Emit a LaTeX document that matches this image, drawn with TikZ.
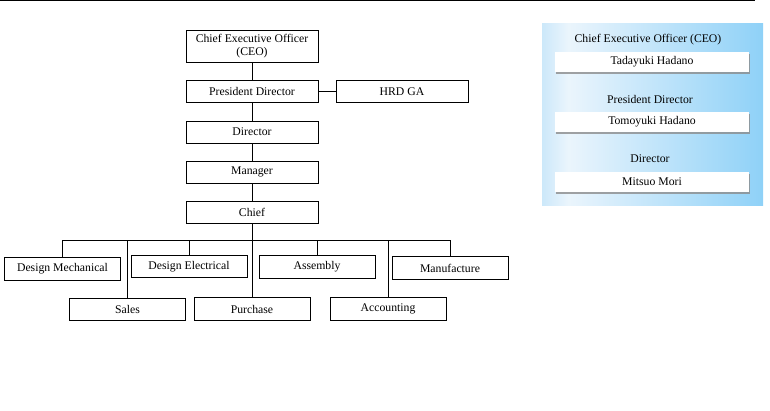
\documentclass[tikz,border=0pt]{standalone}
\usepackage{fontspec}
\setmainfont{Liberation Serif}
\usepackage{tikz}
\usetikzlibrary{positioning,calc,shadows}

\pgfdeclarehorizontalshading{panelgrad}{100bp}{rgb(0bp)=(0.80,0.91,0.98); rgb(25bp)=(0.80,0.91,0.98); rgb(31bp)=(0.92,0.96,0.99); rgb(75bp)=(0.56,0.82,0.97); rgb(100bp)=(0.56,0.82,0.97)}

\tikzset{
    orgbox/.style={draw, fill=white, line width=0.6pt, minimum width=99pt, minimum height=16.5pt, inner sep=1pt, align=center, font=\fontsize{8.8}{10}\selectfont},
    deptbox/.style={orgbox, minimum width=87pt, minimum height=17pt},
    namebox/.style={fill=white, minimum width=145.5pt, minimum height=15pt, inner sep=1pt, font=\fontsize{8.8}{10}\selectfont, drop shadow={shadow xshift=0.8pt, shadow yshift=-1.5pt, fill=black!45, opacity=0.8}},
    rolelabel/.style={font=\fontsize{8.8}{10}\selectfont}
}

\begin{document}
\begin{tikzpicture}[x=0.75pt,y=-0.75pt]
    \useasboundingbox (0,0) rectangle (770,410);
    \draw[line width=1pt] (0,0.8) -- (755,0.8);

    % chain of command
    \node[orgbox, minimum height=24pt] (ceo) at (252,46) {Chief Executive Officer\\(CEO)};
    \node[orgbox] (pres) at (252,91.5) {President Director};
    \node[orgbox] (hrd) at (402,91.5) {HRD GA};
    \node[orgbox] (dir) at (252,132) {Director};
    \node[orgbox] (mgr) at (252,172) {Manager};
    \node[orgbox] (chief) at (252,212) {Chief};

    \draw[line width=0.6pt] (ceo) -- (pres) -- (dir) -- (mgr) -- (chief);
    \draw[line width=0.6pt] (pres) -- (hrd);

    % departments
    \node[deptbox] (dmech) at (62.5,269) {Design Mechanical};
    \node[deptbox] (delec) at (189,266.5) {Design Electrical};
    \node[deptbox] (assy) at (317,267) {Assembly};
    \node[deptbox] (manuf) at (450,268) {Manufacture};
    \node[deptbox] (sales) at (127.5,309.5) {Sales};
    \node[deptbox] (purch) at (252,309) {Purchase};
    \node[deptbox] (acct) at (388,309) {Accounting};

    \coordinate (bus) at (252,240);
    \draw[line width=0.6pt] (chief) -- (bus);
    \foreach \d in {dmech,delec,assy,manuf,sales,purch,acct}
        \draw[line width=0.6pt] (bus) -| (\d.north);

    % name panel
    \shade[shading=panelgrad] (542,24) rectangle (763,205);
    \node[rolelabel] (lceo) at (648,40) {Chief Executive Officer (CEO)};
    \node[namebox] (nceo) at (652,62) {Tadayuki Hadano};
    \node[rolelabel] (lpres) at (650,99) {President Director};
    \node[namebox] (npres) at (652,121.5) {Tomoyuki Hadano};
    \node[rolelabel] (ldir) at (650,159) {Director};
    \node[namebox] (ndir) at (652,182) {Mitsuo Mori};
\end{tikzpicture}
\end{document}
